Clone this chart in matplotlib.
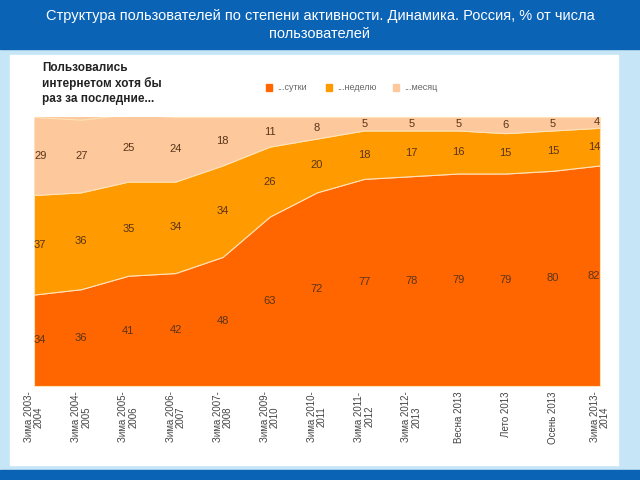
import numpy as np
import matplotlib
matplotlib.use("Agg")
import matplotlib.pyplot as plt
from matplotlib.patches import Rectangle

periods = ["Зима 2003-\n2004", "Зима 2004-\n2005", "Зима 2005-\n2006", "Зима 2006-\n2007",
           "Зима 2007-\n2008", "Зима 2009-\n2010", "Зима 2010-\n2011", "Зима 2011-\n2012",
           "Зима 2012-\n2013", "Весна 2013", "Лето 2013", "Осень 2013", "Зима 2013-\n2014"]
daily = [34, 36, 41, 42, 48, 63, 72, 77, 78, 79, 79, 80, 82]
weekly = [37, 36, 35, 34, 34, 26, 20, 18, 17, 16, 15, 15, 14]
monthly = [29, 27, 25, 24, 18, 11, 8, 5, 5, 5, 6, 5, 4]
series_names = ["...сутки", "...неделю", "...месяц"]
colors = ["#ff6600", "#ff9a00", "#fdc89b"]

title = "Структура пользователей по степени активности. Динамика. Россия, % от числа\nпользователей"
note = "Пользовались\nинтернетом хотя бы\nраз за последние..."

fam = ["Liberation Sans", "DejaVu Sans"]

fig = plt.figure(figsize=(6.4, 4.8), dpi=100)
fig.patch.set_facecolor("#c6e6f7")

# page decoration (behind the axes)
fig.patches.append(Rectangle((0, 1 - 49/480), 1, 49/480, transform=fig.transFigure,
                             color="#0b63b6", zorder=-10))
fig.patches.append(Rectangle((0, 0), 1, 10/480, transform=fig.transFigure,
                             color="#0b63b6", zorder=-10))
fig.patches.append(Rectangle((10/640, 15/480), 608/640, 1 - 15/480 - 55/480,
                             transform=fig.transFigure, color="white", zorder=-10))

fig.text(0.5, 1 - 25/480, title, ha="center", va="center", color="white",
         fontsize=10.5, family=fam, linespacing=1.35)

ax = fig.add_axes([34/640, 1 - 386/480, 566/640, 269/480])
x = np.arange(len(periods))
ax.set_facecolor(colors[2])
ax.stackplot(x, daily, weekly, monthly, colors=colors, edgecolor="#ffe2b8", linewidth=0.8)
ax.set_xlim(0, len(periods) - 1)
ax.set_ylim(0, 100)
for s in ax.spines.values():
    s.set_visible(False)
ax.set_yticks([])
ax.set_xticks(x)
ax.set_xticklabels(periods, rotation=90, fontsize=7, color="#444444", family=fam,
                   ha="center", va="top", multialignment="center", linespacing=1.0)
ax.tick_params(axis="x", length=0, pad=4)

# value labels in the middle of each band
bottoms = np.zeros(len(periods))
for vals in (daily, weekly, monthly):
    for i, v in enumerate(vals):
        ha = "center"
        xi = i
        if i == 0:
            xi, ha = 0.0, "left"
        elif i == len(periods) - 1:
            xi, ha = len(periods) - 1, "right"
        ax.text(xi, bottoms[i] + v / 2, str(v), ha=ha, va="center", fontsize=8,
                color="#5a3418", family=fam)
    bottoms += np.array(vals)

fig.text(42/640, 1 - 62/480, note, ha="left", va="top", fontsize=8.5, fontweight="bold",
         color="#222222", family=fam, linespacing=1.3)

# legend
lx = [269, 329, 396]
for px, name, c in zip(lx, series_names, colors):
    fig.patches.append(Rectangle(((px - 3)/640, 1 - 91/480), 6/640, 7/480,
                                 transform=fig.transFigure, color=c, zorder=3))
    fig.text((px + 8)/640, 1 - 87.5/480, name, ha="left", va="center", fontsize=6.5,
             color="#666666", family=fam)

fig.savefig("out.png", dpi=100, facecolor=fig.get_facecolor())
